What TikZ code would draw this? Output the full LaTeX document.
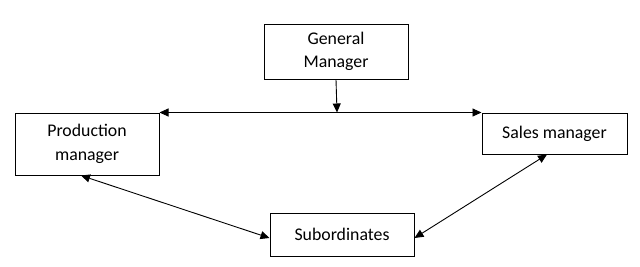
\documentclass[tikz,border=0pt]{standalone}
\usepackage{fontspec}
\setmainfont{Carlito}
\usetikzlibrary{arrows.meta,calc}
\begin{document}
\begin{tikzpicture}[x=1pt,y=-1pt,
  box/.style={draw,line width=1pt,inner sep=0pt,align=center,
    font=\fontsize{17.8}{23.5}\selectfont},
  conn/.style={line width=0.9pt,{Triangle[length=9pt,width=8pt]}-{Triangle[length=9pt,width=8pt]}},
  oneway/.style={line width=0.9pt,-{Triangle[length=9pt,width=8pt]}}]
\useasboundingbox (0,0) rectangle (640,266);
\node[box,minimum width=144pt,minimum height=55pt] (gm) at (336,51.5) {General\\Manager};
\node[box,minimum width=144pt,minimum height=62pt] (prod) at (87,144) {Production\\manager};
\node[box,minimum width=145pt,minimum height=41pt] (sales) at (554.5,133.5) {Sales manager};
\node[box,minimum width=144pt,minimum height=43pt] (sub) at (342,234.5) {Subordinates};
\coordinate (j) at ($(gm.south)+(1,33)$);
\draw[conn] (prod.north east) -- (sales.north west);
\draw[oneway] (gm.south) -- (j);
\draw[conn] ($(prod.south)+(-6,0)$) -- ($(sub.west)+(0,3.5)$);
\draw[conn] ($(sales.south)+(-7.5,0)$) -- ($(sub.east)+(0,3.5)$);
\end{tikzpicture}
\end{document}
